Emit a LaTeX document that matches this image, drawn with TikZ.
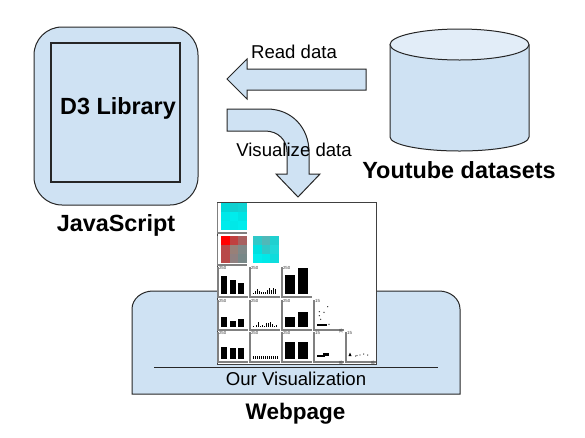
\documentclass[tikz,border=0pt]{standalone}
\usepackage{fontspec}
\setmainfont{Liberation Sans}
\definecolor{pale}{HTML}{CFE2F3}
\definecolor{palelight}{HTML}{E2EDF8}
\definecolor{frm}{HTML}{808080}
\newcommand{\cellframe}[2]{%
  \draw[frm,line width=1.1pt] (#1,#2-30)--(#1,#2)--(#1+30,#2);}
\newcommand{\hundred}[2]{\node[tiny250] at (#1+0.8,#2-30.5) {250};}
\newcommand{\fifteen}[2]{\node[tiny250] at (#1+1,#2-30.5) {15};
  \node[tiny250,rotate=90,anchor=east] at (#1+27,#2-1.5) {15};}
\tikzset{
  shapeline/.style={draw=black!85,line width=1pt,fill=pale},
  tiny250/.style={font=\fontsize{4.4}{5}\selectfont,text=black!75,inner sep=0pt,anchor=north west},
  bar/.style={fill=black,draw=none},
  dot/.style={fill=black!80,draw=none},
  boldlabel/.style={font=\bfseries\fontsize{23.4}{26}\selectfont,inner sep=0pt},
  plainlabel/.style={font=\fontsize{18.6}{22}\selectfont,inner sep=0pt}
}
\begin{document}
\begin{tikzpicture}[x=1pt,y=-1pt]
\useasboundingbox (0,0) rectangle (585,437);
\fill[white] (0,0) rectangle (585,437);
% JavaScript box
\node[shapeline,rounded corners=28pt,minimum width=164pt,minimum height=178pt,inner sep=0pt] (js) at (116,116) {};
\node[draw=black!85,line width=1.1pt,minimum width=129pt,minimum height=139pt,inner sep=0pt] (d3) at (115.5,112.5) {};
\node[boldlabel] (d3t) at (118,108) {D3 Library};
\node[boldlabel] (jst) at (116,225) {JavaScript};
% cylinder
\draw[shapeline] (390,44.5) -- (390,137) arc[start angle=180,end angle=0,x radius=69.5,y radius=14] -- (529,44.5);
\draw[shapeline,fill=palelight] (459.5,44.5) ellipse[x radius=69.5,y radius=15.5];
\node[boldlabel] (yt) at (459,170) {Youtube datasets};
% read arrow
\draw[shapeline,line join=miter] (227,79)--(247,59)--(247,69)--(366,69)--(366,90)--(247,90)--(247,99)--cycle;
\node[plainlabel] (rd) at (294,52) {Read data};
% visualize arrow
\draw[shapeline,line join=miter] (227,109)--(267,109) .. controls (292,109) and (309,128) .. (309,152)
  --(309,174)--(320,174)--(298,197)--(276,174)--(287,174)--(287,152)
  .. controls (287,140) and (278,131) .. (265,131)--(227,131)--cycle;
\node[plainlabel] (vd) at (294,150) {Visualize data};
% webpage
\draw[shapeline] (132,394)--(132,309) arc[start angle=180,end angle=270,x radius=21,y radius=18]
  --(439,291) arc[start angle=270,end angle=360,x radius=21,y radius=18]--(460,394)--cycle;
\node[font=\bfseries\fontsize{22.5}{26}\selectfont,inner sep=0pt] (wp) at (295.5,414) {Webpage};
\node[plainlabel] (ov) at (296,379) {Our Visualization};
\coordinate (la) at (154,367); \coordinate (lb) at (438,367);
\draw[black!85,line width=1pt] (la)--(lb);
% matrix
\node[draw=black!75,line width=0.8pt,fill=white,minimum width=159.5pt,minimum height=162pt,inner sep=0pt] (mat) at (297,283) {};
% heat maps
\foreach \i/\j/\c in {0/0/00D8D8,1/0/10D0D0,2/0/10D4D4,0/1/00E8E8,1/1/00ECEC,2/1/00E4E4,0/2/00ECEC,1/2/00E8E8,2/2/00ECEC}
  {\definecolor{tc}{HTML}{\c}\fill[tc] (221+\i*8.67,203+\j*9) rectangle ++(8.7,9.05);}
\foreach \i/\j/\c in {0/0/FF0000,1/0/C04040,2/0/A86060,0/1/B84848,1/1/988078,2/1/808888,0/2/B84848,1/2/908080,2/2/788888}
  {\definecolor{tc}{HTML}{\c}\fill[tc] (221+\i*8.67,236+\j*9) rectangle ++(8.7,9.05);}
\foreach \i/\j/\c in {0/0/30C8C8,1/0/50B8B8,2/0/20D0D0,0/1/00E0E0,1/1/30C8C8,2/1/20D8D8,0/2/00ECEC,1/2/00E8E8,2/2/10DCDC}
  {\definecolor{tc}{HTML}{\c}\fill[tc] (253+\i*8.67,236+\j*9) rectangle ++(8.7,9.05);}
\draw[frm,line width=1.1pt] (217.5,203)--(217.5,233)--(247,233);
\draw[frm,line width=1.1pt] (217.5,236)--(217.5,265)--(247,265);
\cellframe{218}{297}\cellframe{250}{297}\cellframe{282}{297}
\cellframe{218}{330}\cellframe{250}{330}\cellframe{282}{330}\cellframe{314}{330}
\cellframe{218}{362}\cellframe{250}{362}\cellframe{282}{362}\cellframe{314}{362}\cellframe{346}{362}
\hundred{218}{297}\hundred{250}{297}\hundred{282}{297}
\hundred{218}{330}\hundred{250}{330}\hundred{282}{330}\fifteen{314}{330}
\hundred{218}{362}\hundred{250}{362}\hundred{282}{362}\fifteen{314}{362}\fifteen{346}{362}
% large bars
\foreach \x/\w/\t/\b in {
 221/6/276/294, 229.5/6/280/294, 238/6/282.5/294,
 221/6/316.5/327, 229.5/6/321/327, 238/6/319/327,
 221/6/347/359, 229.5/6/348/359, 238/6/348/359,
 285/10/275/294, 298/10/268/294,
 285/10/317/327, 298/10/312/327,
 285/10/342/359, 298/10/342/359}
 {\fill[bar] (\x,\t) rectangle (\x+\w,\b);}
% small bars
\foreach \x/\t in {253/293,255/291,257/289,259/291,261/291.5,263/292,265/292,267/290,269/288,271/290,273/288,275/289}
 {\fill[bar] (\x,\t) rectangle (\x+1.3,294);}
\foreach \x/\t in {253/326,256/325,258/322,260/326,262/325,264/326,266/323,268/323,270/322,272/324,274/326,276/325}
 {\fill[bar] (\x,\t) rectangle (\x+1.1,327);}
\foreach \x in {253,255,...,277}
 {\fill[bar] (\x,356) rectangle (\x+1.3,359);}
% scatter
\foreach \x/\y in {327.7/306.7,324/312.3,319.3/311.7,319.3/315.7,320.7/319.3,329/324.3}
 {\fill[dot] (\x,\y) circle (0.7pt);}
\fill[bar] (316.7,324) rectangle (326.7,326);
\fill[bar] (317,354.7) rectangle (325,356.7);
\fill[bar] (323,353) rectangle (329,356);
\fill[bar] (348.5,356) -- (350,352.5) -- (351.5,356) -- cycle;
\foreach \x/\y in {355.7/356,357/355.5,360/355,363.7/354,367.7/355}
 {\fill[dot] (\x,\y) circle (0.7pt);}
\end{tikzpicture}
\end{document}
